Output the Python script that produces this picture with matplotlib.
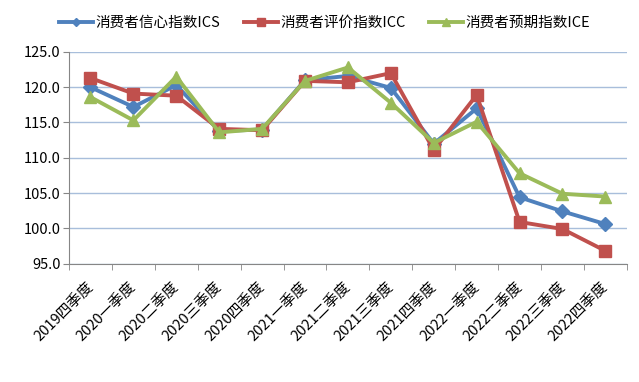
import matplotlib.pyplot as plt
import matplotlib.transforms as mtrans
import numpy as np

plt.rcParams['font.family'] = ['Noto Sans CJK SC', 'DejaVu Sans']

# quarters on the x axis
quarters = ['2019四季度', '2020一季度', '2020二季度', '2020三季度', '2020四季度',
            '2021一季度', '2021二季度', '2021三季度', '2021四季度',
            '2022一季度', '2022二季度', '2022三季度', '2022四季度']

# index values
ics = [120.0, 117.2, 120.3, 113.8, 114.0, 121.0, 121.6, 119.9, 112.0, 117.0, 104.4, 102.4, 100.6]
icc = [121.3, 119.1, 118.8, 114.1, 113.9, 120.9, 120.7, 122.0, 111.1, 118.9, 100.9, 99.9, 96.8]
ice = [118.6, 115.3, 121.5, 113.6, 114.1, 120.9, 122.8, 117.8, 112.1, 115.1, 107.8, 104.9, 104.5]

names = ['消费者信心指数ICS', '消费者评价指数ICC', '消费者预期指数ICE']

fig = plt.figure(figsize=(6.39, 3.82), dpi=100)
ax = fig.add_axes([0.108, 0.31, 0.873, 0.554])

x = np.arange(len(quarters))
ax.plot(x, ics, color='#4F81BD', lw=2.8, marker='D', ms=7, label=names[0], zorder=3)
ax.plot(x, icc, color='#C0504D', lw=2.8, marker='s', ms=9, label=names[1], zorder=3)
ax.plot(x, ice, color='#9BBB59', lw=2.8, marker='^', ms=9, label=names[2], zorder=4)

ax.set_xlim(-0.5, len(quarters) - 0.5)
ax.set_ylim(95, 125)
ax.set_yticks(np.arange(95, 126, 5))
ax.set_yticklabels(['%.1f' % v for v in np.arange(95, 126, 5)], fontsize=10.5)
ax.grid(axis='y', color='#A8BEDB', lw=1)
ax.set_axisbelow(True)

# category ticks sit between points
ax.set_xticks(x)
ax.set_xticklabels(quarters, rotation=45, ha='right', rotation_mode='anchor', fontsize=10.5)
ax.tick_params(axis='x', length=0, pad=12)
shift = mtrans.ScaledTranslation(-4 / 100, 0, fig.dpi_scale_trans)
for lbl in ax.get_xticklabels():
    lbl.set_transform(lbl.get_transform() + shift)
ax.set_xticks(np.arange(-0.5, len(quarters), 1), minor=True)
ax.tick_params(axis='x', which='minor', length=4, color='#868686', direction='out')
ax.tick_params(axis='y', length=4, color='#868686', direction='out', pad=2)

for s in ['top', 'right']:
    ax.spines[s].set_visible(False)
for s in ['left', 'bottom']:
    ax.spines[s].set_color('#868686')

ax.legend(loc='center', bbox_to_anchor=(0.4585, 1.137), ncol=3, frameon=False,
          fontsize=10.5, handlelength=2.3, columnspacing=1.6, handletextpad=0.2,
          markerscale=0.6)

fig.savefig('out.png', dpi=100)
